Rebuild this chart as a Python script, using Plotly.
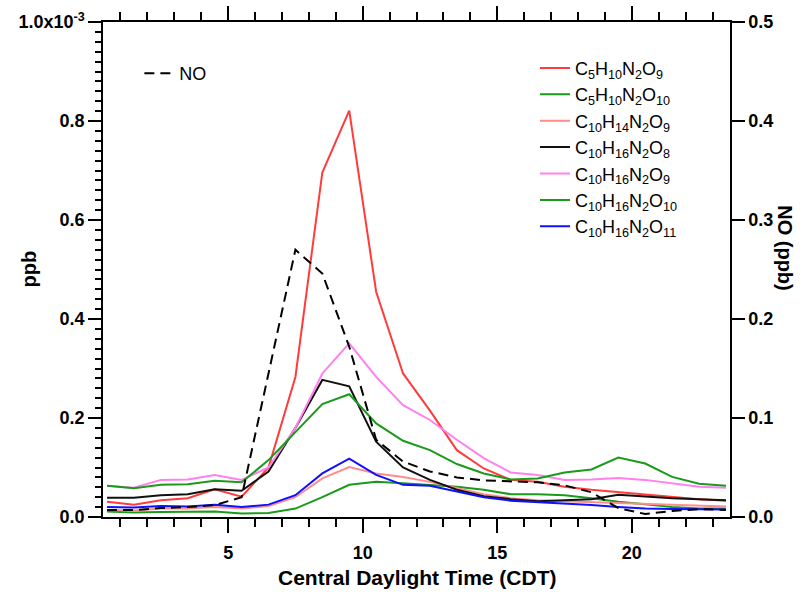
import numpy as np
import plotly.graph_objects as go

hours = [h + 0.5 for h in range(24)]

# values in units of 1e-3 ppb (left axis)
c5h10n2o9 = [0.031, 0.025, 0.034, 0.038, 0.056, 0.041, 0.100, 0.283, 0.696, 0.821, 0.455, 0.290,
             0.215, 0.135, 0.098, 0.075, 0.071, 0.061, 0.055, 0.050, 0.045, 0.040, 0.036, 0.033]
c5h10n2o10 = [0.011, 0.009, 0.010, 0.010, 0.011, 0.007, 0.008, 0.017, 0.040, 0.065, 0.071, 0.068,
              0.064, 0.061, 0.055, 0.046, 0.046, 0.044, 0.038, 0.031, 0.026, 0.020, 0.017, 0.017]
c10h14n2o9 = [0.014, 0.013, 0.017, 0.017, 0.020, 0.017, 0.022, 0.040, 0.078, 0.101, 0.088, 0.081,
              0.071, 0.058, 0.046, 0.038, 0.034, 0.032, 0.030, 0.028, 0.026, 0.024, 0.022, 0.021]
c10h16n2o8 = [0.039, 0.039, 0.044, 0.046, 0.056, 0.053, 0.092, 0.180, 0.277, 0.264, 0.152, 0.100,
              0.075, 0.055, 0.042, 0.036, 0.032, 0.034, 0.036, 0.045, 0.041, 0.038, 0.036, 0.034]
c10h16n2o9 = [0.063, 0.059, 0.075, 0.076, 0.085, 0.075, 0.100, 0.180, 0.290, 0.351, 0.283, 0.226,
              0.196, 0.156, 0.119, 0.090, 0.085, 0.075, 0.076, 0.079, 0.075, 0.068, 0.061, 0.059]
c10h16n2o10 = [0.063, 0.058, 0.065, 0.066, 0.073, 0.070, 0.115, 0.172, 0.228, 0.248, 0.189, 0.154,
               0.135, 0.107, 0.088, 0.076, 0.078, 0.090, 0.096, 0.120, 0.108, 0.081, 0.067, 0.063]
c10h16n2o11 = [0.020, 0.019, 0.022, 0.021, 0.025, 0.020, 0.025, 0.044, 0.088, 0.118, 0.085, 0.065,
               0.063, 0.051, 0.040, 0.033, 0.030, 0.028, 0.024, 0.020, 0.017, 0.016, 0.015, 0.015]
# NO in ppb (right axis)
no_ppb = [0.007, 0.007, 0.009, 0.010, 0.012, 0.020, 0.145, 0.270, 0.246, 0.172, 0.078, 0.056,
          0.046, 0.040, 0.037, 0.036, 0.035, 0.032, 0.025, 0.009, 0.003, 0.006, 0.008, 0.007]

species = [
    ("C<sub>5</sub>H<sub>10</sub>N<sub>2</sub>O<sub>9</sub>", c5h10n2o9, "#ff3b3b"),
    ("C<sub>5</sub>H<sub>10</sub>N<sub>2</sub>O<sub>10</sub>", c5h10n2o10, "#1a9a1a"),
    ("C<sub>10</sub>H<sub>14</sub>N<sub>2</sub>O<sub>9</sub>", c10h14n2o9, "#ff8c8c"),
    ("C<sub>10</sub>H<sub>16</sub>N<sub>2</sub>O<sub>8</sub>", c10h16n2o8, "#111111"),
    ("C<sub>10</sub>H<sub>16</sub>N<sub>2</sub>O<sub>9</sub>", c10h16n2o9, "#ff80ee"),
    ("C<sub>10</sub>H<sub>16</sub>N<sub>2</sub>O<sub>10</sub>", c10h16n2o10, "#1a9a1a"),
    ("C<sub>10</sub>H<sub>16</sub>N<sub>2</sub>O<sub>11</sub>", c10h16n2o11, "#1010ff"),
]

yticks = [0, 0.2, 0.4, 0.6, 0.8, 1.0]
ytick_text = ["0.0", "0.2", "0.4", "0.6", "0.8", "1.0x10<sup>-3</sup>"]
xticks = [5, 10, 15, 20]
no_ticks = [0.0, 0.1, 0.2, 0.3, 0.4, 0.5]

FAM = "Liberation Sans, Arial, sans-serif"

fig = go.Figure()

fig.add_trace(go.Scatter(x=hours, y=no_ppb, mode="lines", name="NO", yaxis="y2",
                         line=dict(color="black", width=2, dash="10px,6px"), legend="legend"))

for name, vals, col in species:
    fig.add_trace(go.Scatter(x=hours, y=np.array(vals) * 1e-3, mode="lines", name=name,
                             line=dict(color=col, width=2), legend="legend2"))

font_tick = dict(family=FAM, size=18, color="black", weight="bold")

fig.update_layout(
    width=803, height=592,
    margin=dict(l=103, r=73, t=22, b=75, autoexpand=False),
    paper_bgcolor="white", plot_bgcolor="white",
    showlegend=True,
    font=dict(family=FAM, color="black"),
    xaxis=dict(range=[0.35, 23.65], tickvals=xticks, ticks="outside", ticklen=14, tickwidth=1.5,
               tickcolor="black", showline=True, linecolor="black", linewidth=1.5, mirror="ticks",
               showgrid=False, zeroline=False, tickfont=font_tick, ticklabelstandoff=5, automargin=False,
               minor=dict(dtick=1, tick0=0, ticks="outside", ticklen=8, tickwidth=1.5, tickcolor="black")),
    yaxis=dict(range=[0, 1.0e-3], tickvals=[v * 1e-3 for v in yticks], ticktext=[f"<b>{t}</b>" for t in ytick_text],
               ticks="outside", ticklen=13, tickwidth=1.5, tickcolor="black", automargin=False,
               showline=True, linecolor="black", linewidth=1.5, showgrid=False, zeroline=False,
               tickfont=font_tick,
               minor=dict(dtick=0.02e-3, tick0=0, ticks="outside", ticklen=6, tickwidth=1.5, tickcolor="black")),
    yaxis2=dict(range=[0, 0.5], tickvals=no_ticks, ticktext=[f"<b>{v:.1f}</b>" for v in no_ticks],
                overlaying="y", side="right", ticks="outside", ticklen=13, tickwidth=1.5, tickcolor="black",
                showline=True, linecolor="black", linewidth=1.5, showgrid=False, zeroline=False,
                tickfont=font_tick, automargin=False),
    legend=dict(x=0.058, y=0.933, xanchor="left", yanchor="top", bgcolor="rgba(0,0,0,0)",
                font=dict(size=18, color="black")),
    legend2=dict(x=0.689, y=0.944, xanchor="left", yanchor="top", bgcolor="rgba(0,0,0,0)",
                 font=dict(size=18, color="black"), tracegroupgap=0),
    annotations=[
        dict(text="<b>ppb</b>", x=0, xref="paper", xanchor="center", y=0.5, yref="paper",
             textangle=-90, showarrow=False, font=dict(size=20), xshift=-75),
        dict(text="<b>NO (ppb)</b>", x=1.0, xref="paper", xanchor="center", y=0.543, yref="paper",
             textangle=90, showarrow=False, font=dict(size=20), xshift=55),
        dict(text="<b>Central Daylight Time (CDT)</b>", x=0.5, xref="paper", xanchor="center",
             y=-0.123, yref="paper", yanchor="middle", showarrow=False, font=dict(size=21)),
    ],
)

fig.write_html("out.html")
